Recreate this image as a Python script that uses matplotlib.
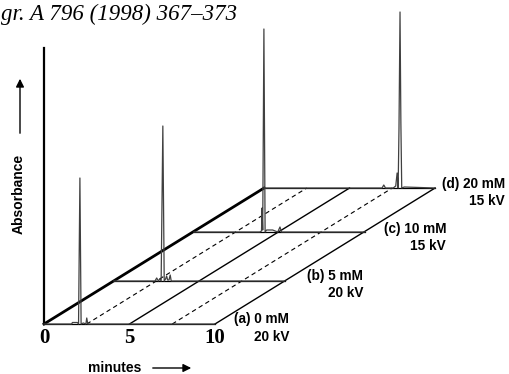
import matplotlib
matplotlib.use("Agg")
import matplotlib.pyplot as plt

# row labels (front to back)
row_names = ["(a) 0 mM\n20 kV", "(b) 5 mM\n20 kV", "(c) 10 mM\n15 kV", "(d) 20 mM\n15 kV"]

# electropherogram traces (minutes, absorbance)
trace_a_t = [0, 1.62, 1.66, 1.95, 2.02, 2.10, 2.17, 2.30, 2.45, 2.50, 2.56, 2.62, 10]
trace_a_A = [0, 0, 0.015, 0.015, 0.0, 1.46, 0.0, 0.01, 0.0, 0.06, 0.0, 0.0, 0]
trace_b_t = [0, 2.40, 2.50, 2.60, 2.68, 2.76, 2.86, 2.94, 3.02, 3.08, 3.14, 3.22, 3.29, 3.35, 10]
trace_b_A = [0, 0, 0.03, 0.0, 0.02, 0.0, 1.55, 0.0, 0.02, 0.05, 0.01, 0.01, 0.06, 0.0, 0]
trace_c_t = [0, 3.85, 3.95, 3.98, 4.02, 4.09, 4.16, 4.25, 4.60, 4.90, 5.03, 5.12, 10]
trace_c_A = [0, 0, 0.01, 0.24, 0.02, 2.03, 0.0, 0.02, 0.02, 0.0, 0.05, 0.0, 0]
trace_d_t = [0, 6.90, 7.00, 7.10, 7.55, 7.70, 7.78, 7.84, 7.89, 7.95, 8.00, 8.05, 8.20, 10]
trace_d_A = [0, 0, 0.03, 0.0, 0.0, 0.02, 0.15, 0.0, 0.60, 1.76, 0.65, 0.0, 0.01, 0]
traces = [(trace_a_t, trace_a_A), (trace_b_t, trace_b_A),
          (trace_c_t, trace_c_A), (trace_d_t, trace_d_A)]

grid_t = [0, 2.5, 5, 7.5, 10]
grid_style = ["-", "--", "-", "--", "-"]
ticks = [0, 5, 10]

# oblique offsets of each row (in minutes, absorbance)
row_dx = [0, 4.09, 8.77, 12.87]
row_dy = [0, 0.43, 0.92, 1.36]

W, H = 509, 374
fig = plt.figure(figsize=(W / 100, H / 100), dpi=100)
ax = fig.add_axes([0, 0, 1, 1])
ax.set_xlim(-44 / 17.1, (W - 44) / 17.1)
ax.set_ylim(-0.5, 3.24)
ax.axis("off")


def px(x, y):
    return x / W, 1 - y / H


# floor grid lines running from front row to back row
for t, ls in zip(grid_t, grid_style):
    lw = 2.0 if t == 0 else 1.0
    ax.plot([t + row_dx[0], t + row_dx[-1]], [row_dy[0], row_dy[-1]],
            color="black", ls=ls, lw=lw if ls == "-" else 0.8,
            dashes=(4, 3) if ls == "--" else (None, None), zorder=2)

# back to front so front traces sit on top
for i in range(3, -1, -1):
    t, A = traces[i]
    xs = [v + row_dx[i] for v in t]
    ys = [v + row_dy[i] for v in A]
    ax.plot(xs, ys, color="0.25", lw=0.9, zorder=3)
    ax.plot([row_dx[i], 10 + row_dx[i]], [row_dy[i], row_dy[i]],
            color="black", lw=0.9, zorder=2)

# vertical absorbance axis
ax.plot([0, 0], [0, 2.76], color="black", lw=1.6, zorder=2)

for tk in ticks:
    ax.text(tk, -0.14, str(tk), ha="center", va="center", fontsize=15,
            fontweight="bold", family="Liberation Serif")

label_pos = [(289, 328), (363, 284.5), (446, 237.5), (505, 192.5)]
for name, (x, y) in zip(row_names, label_pos):
    fig.text(*px(x, y), name, ha="right", va="center", multialignment="right",
             fontsize=9.8, fontweight="bold", family="Liberation Sans",
             linespacing=1.3)

fig.text(*px(1, 14), "gr. A 796 (1998) 367\u2013373", ha="left", va="center",
         fontsize=16.5, style="italic", family="Liberation Serif")

fig.text(*px(19, 194), "Absorbance", rotation=90, ha="center", va="center",
         fontsize=10, fontweight="bold", family="Liberation Sans")
fig.text(*px(115, 368), "minutes", ha="center", va="center",
         fontsize=10, fontweight="bold", family="Liberation Sans")

ax.annotate("", xy=px(20, 76), xytext=px(20, 136), xycoords="figure fraction",
            textcoords="figure fraction",
            arrowprops=dict(arrowstyle="-|>", color="black", lw=1.0,
                            mutation_scale=12))
ax.annotate("", xy=px(194, 368), xytext=px(150, 368), xycoords="figure fraction",
            textcoords="figure fraction",
            arrowprops=dict(arrowstyle="-|>", color="black", lw=1.0,
                            mutation_scale=12))

fig.savefig("out.png", dpi=100)
